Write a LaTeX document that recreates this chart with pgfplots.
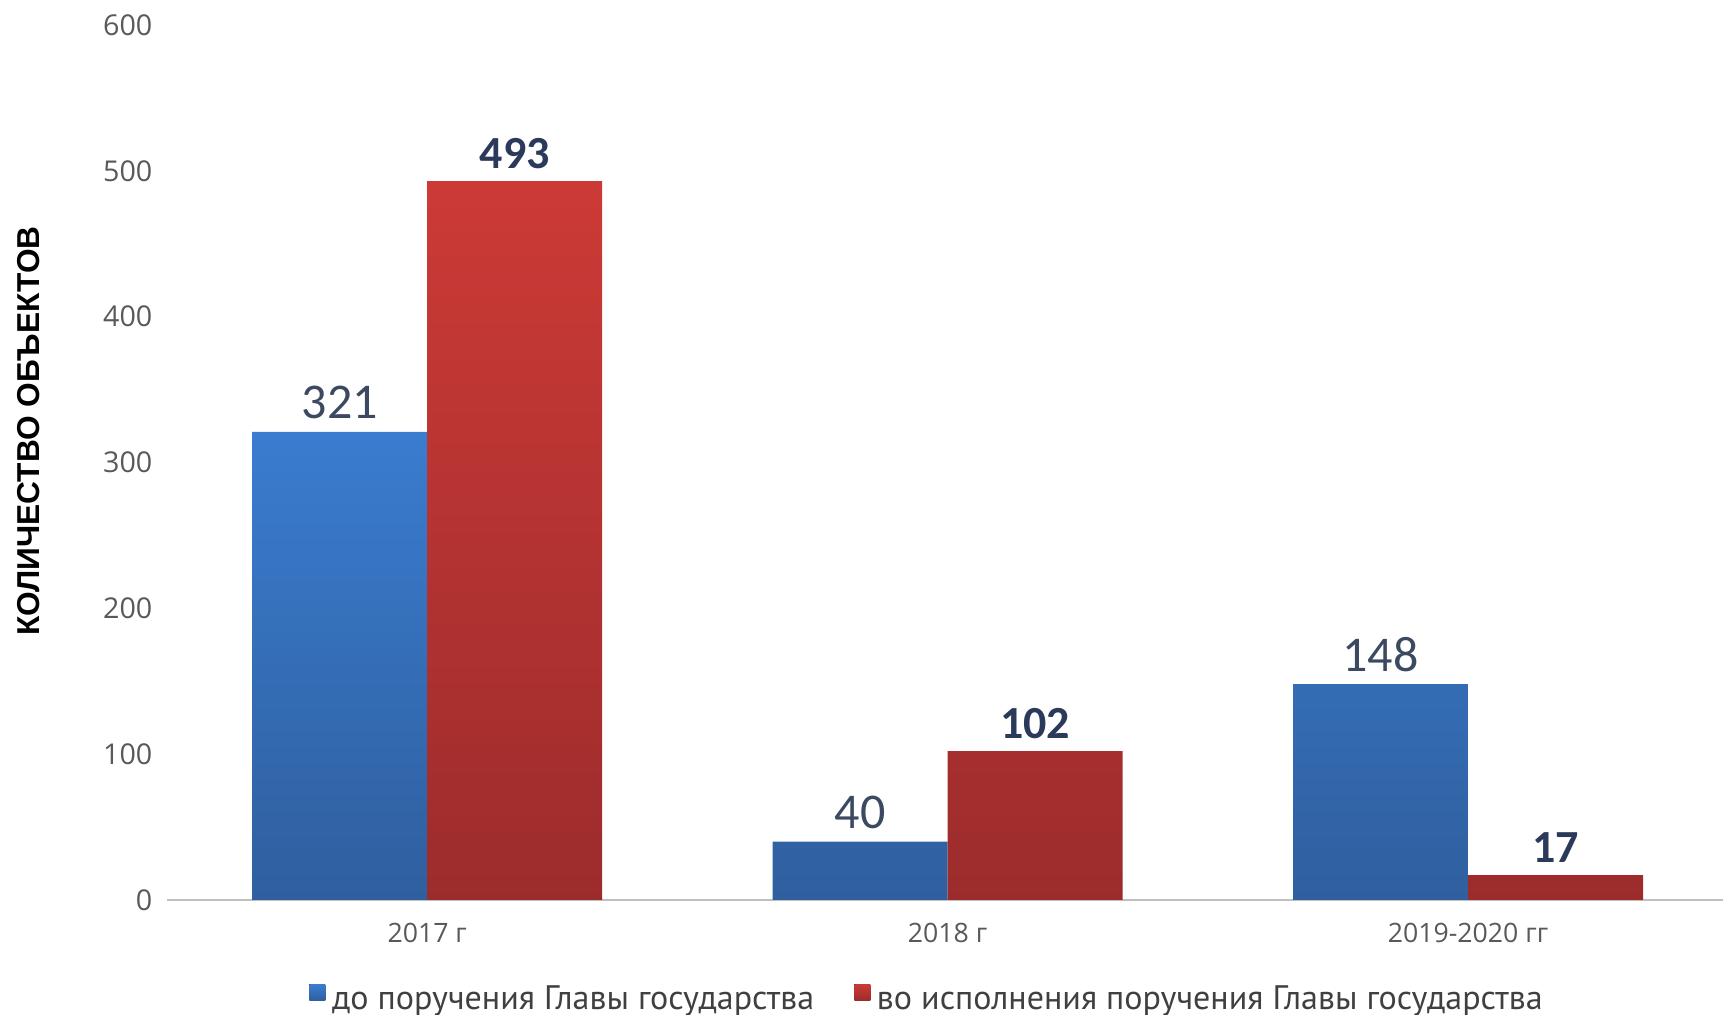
\documentclass[border=0pt]{standalone}
\usepackage{pgfplots}
\pgfplotsset{compat=1.18}
\usepackage{fontspec}
\setmainfont{Open Sans}
\newfontfamily\ptsans{PT Sans}
\newfontfamily\carlito{Carlito}
\newfontfamily\libsans{Liberation Sans}
\definecolor{bluetop}{HTML}{3A7CCF}
\definecolor{bluebot}{HTML}{2F5F9E}
\definecolor{redtop}{HTML}{CC3A36}
\definecolor{redbot}{HTML}{9C2C2C}
\definecolor{tickgray}{HTML}{595959}
\definecolor{valreg}{HTML}{3B4A60}
\definecolor{valbold}{HTML}{2B3A5A}
\definecolor{axgray}{HTML}{BFBFBF}
\begin{document}
\begin{tikzpicture}
\begin{axis}[
  name=ax,
  scale only axis,
  width=466.8pt, height=262.5pt,
  ybar=0pt, bar width=52.5pt,
  xmin=-0.5, xmax=2.49,
  ymin=0, ymax=600,
  ytick={0,100,...,600},
  xtick={0,1,2},
  xticklabels={2017 г, 2018 г, 2019-2020 гг},
  axis x line*=bottom,
  axis y line*=left,
  y axis line style={draw=none},
  x axis line style={draw=axgray, line width=0.7pt, -},
  major tick length=0pt,
  /pgf/number format/assume math mode=true,
  yticklabel style={font=\fontsize{8.6}{10}\selectfont, text=tickgray, anchor=east, inner sep=0pt, xshift=-4.2pt},
  xticklabel style={font=\fontsize{8}{9.6}\selectfont, text=tickgray, anchor=north, inner sep=0pt, yshift=-6.9pt},
  ylabel={КОЛИЧЕСТВО ОБЪЕКТОВ},
  ylabel style={font=\libsans\bfseries\fontsize{9.5}{11}\selectfont, at={(axis description cs:-0.0887,0.536)}, anchor=center},
  legend style={draw=none, fill=none, at={(axis description cs:0.49,-0.114)}, anchor=center,
    font=\ptsans\fontsize{10.2}{12}\selectfont, text=black!75,
    /tikz/every even column/.append style={column sep=10pt},
    inner sep=0pt},
  legend columns=2,
  legend image code/.code={\fill[#1] (0pt,-0.2pt) rectangle (4.8pt,4.6pt);},
  nodes near coords,
  clip=false,
]
\addplot[draw=none, top color=bluetop, bottom color=bluebot,
  every node near coord/.append style={font=\carlito\fontsize{15}{18}\selectfont, text=valreg, anchor=south, inner sep=0pt, yshift=3.6pt}]
  coordinates {(0,321) (1,40) (2,148)};
\addlegendentry{до поручения Главы государства}
\addplot[draw=none, top color=redtop, bottom color=redbot,
  every node near coord/.append style={font=\carlito\bfseries\fontsize{13.8}{16}\selectfont, text=valbold, anchor=south, inner sep=0pt, yshift=3.6pt}]
  coordinates {(0,493) (1,102) (2,17)};
\addlegendentry{во исполнения поручения Главы государства}
\end{axis}
\pgfresetboundingbox
\path ([xshift=-50.1pt,yshift=-34.5pt]ax.south west) rectangle ([yshift=7.5pt]ax.north east);
\end{tikzpicture}
\end{document}
